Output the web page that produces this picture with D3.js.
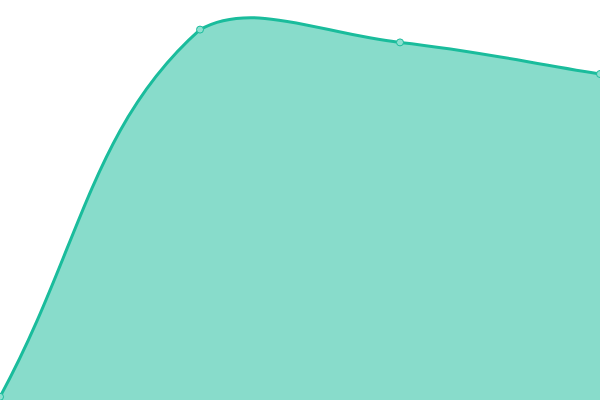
<!DOCTYPE html>
<html>
<head>
<meta charset="utf-8">
<script src="https://cdn.jsdelivr.net/npm/d3@7"></script>
<style>
  html, body { margin: 0; padding: 0; background: #fff; }
  #chart { width: 600px; height: 400px; }
</style>
</head>
<body>
<div id="chart"></div>
<script>
const labels = ["A", "B", "C", "D"];
const values = [0.8, 92.6, 89.4, 81.5];

const width = 600;
const height = 400;
const tension = 0.4;

// spline like the one the original chart used: control points scaled by
// neighbour distances, then capped to the plotting area
function SplineCurve(context) {
    this._context = context;
}
SplineCurve.prototype = {
    areaStart() { this._line = 0; },
    areaEnd() { this._line = NaN; },
    lineStart() { this._pts = []; },
    point(x, y) { this._pts.push([+x, +y]); },
    lineEnd() {
        const pts = this._pts, n = pts.length, ctx = this._context;
        if (!n) return;
        if (this._line) ctx.lineTo(pts[0][0], pts[0][1]);
        else ctx.moveTo(pts[0][0], pts[0][1]);

        const cps = pts.map((cur, i) => {
            const prev = pts[i - 1] || cur;
            const next = pts[i + 1] || cur;
            const d01 = Math.hypot(cur[0] - prev[0], cur[1] - prev[1]);
            const d12 = Math.hypot(next[0] - cur[0], next[1] - cur[1]);
            let s01 = d01 / (d01 + d12);
            let s12 = d12 / (d01 + d12);
            if (isNaN(s01)) s01 = 0;
            if (isNaN(s12)) s12 = 0;
            const fa = tension * s01, fb = tension * s12;
            const cap = (v, max) => Math.max(0, Math.min(max, v));
            return {
                prev: [cap(cur[0] - fa * (next[0] - prev[0]), width), cap(cur[1] - fa * (next[1] - prev[1]), height)],
                next: [cap(cur[0] + fb * (next[0] - prev[0]), width), cap(cur[1] + fb * (next[1] - prev[1]), height)]
            };
        });

        for (let i = 1; i < n; i++) {
            const a = cps[i - 1].next, b = cps[i].prev, p = pts[i];
            ctx.bezierCurveTo(a[0], a[1], b[0], b[1], p[0], p[1]);
        }
        if (this._line || (this._line !== 0 && n === 1)) ctx.closePath();
        this._line = 1 - this._line;
    }
};
const splineCurve = context => new SplineCurve(context);

const x = d3.scalePoint()
    .domain(labels)
    .range([0, width]);

const y = d3.scaleLinear()
    .domain([0, 100])
    .range([height, 0]);

const data = labels.map((label, i) => ({ label, value: values[i] }));

const svg = d3.select("#chart")
    .append("svg")
    .attr("width", width)
    .attr("height", height);

svg.append("path")
    .datum(data)
    .attr("fill", "rgba(26, 188, 156, 0.52)")
    .attr("d", d3.area()
        .x(d => x(d.label))
        .y0(height)
        .y1(d => y(d.value))
        .curve(splineCurve));

svg.append("path")
    .datum(data)
    .attr("fill", "none")
    .attr("stroke", "#1abc9c")
    .attr("stroke-width", 3)
    .attr("d", d3.line()
        .x(d => x(d.label))
        .y(d => y(d.value))
        .curve(splineCurve));

svg.selectAll(".point")
    .data(data)
    .join("circle")
    .attr("class", "point")
    .attr("cx", d => x(d.label))
    .attr("cy", d => y(d.value))
    .attr("r", 3.5)
    .attr("fill", "#8ee0d0")
    .attr("stroke", "#1abc9c")
    .attr("stroke-width", 1);
</script>
</body>
</html>
